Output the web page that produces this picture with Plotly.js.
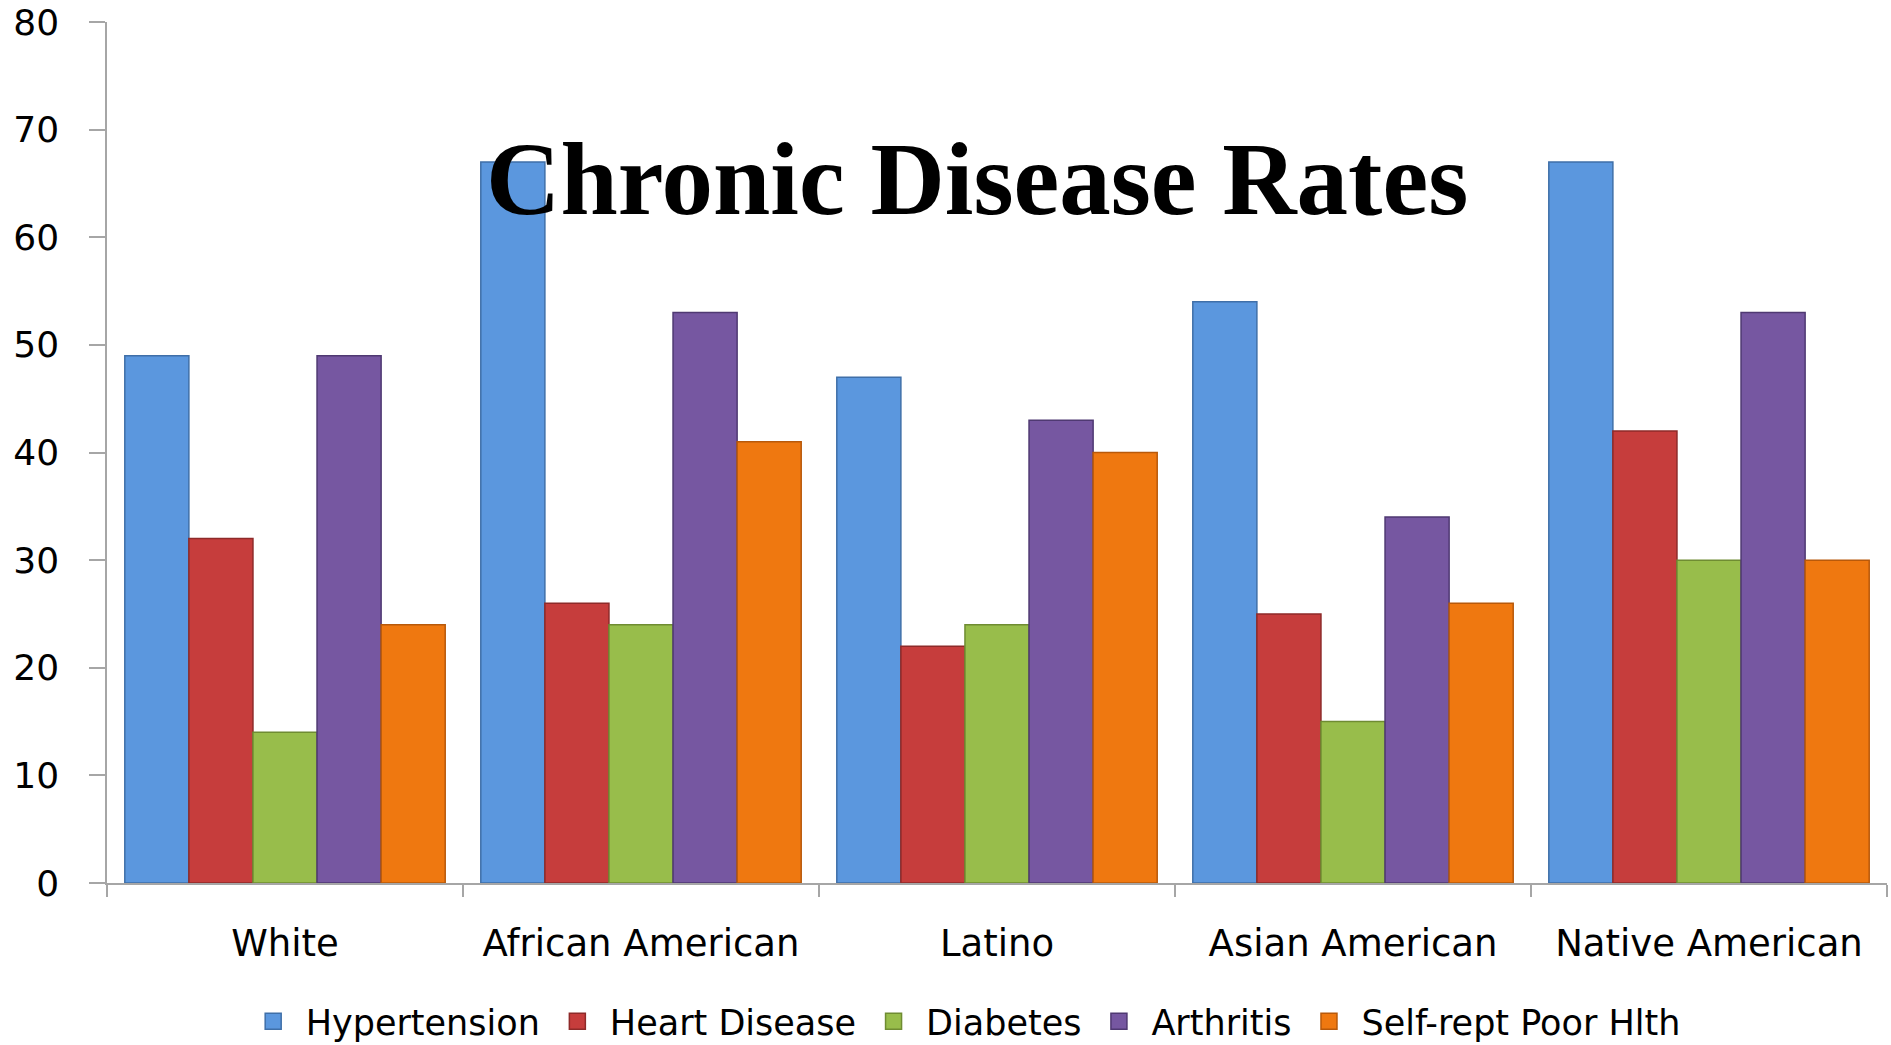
<!DOCTYPE html>
<html>
<head>
<meta charset="utf-8">
<script src="https://cdn.plot.ly/plotly-3.0.1.min.js"></script>
<style>html,body{margin:0;padding:0;background:#fff;}#chart{width:1891px;height:1045px;}</style>
</head>
<body>
<div id="chart"></div>
<script>
const categories = ["White", "African American", "Latino", "Asian American", "Native American"];
const seriesNames = ["Hypertension", "Heart Disease", "Diabetes", "Arthritis", "Self-rept Poor Hlth"];
const hypertension = [49, 67, 47, 54, 67];
const heartDisease = [32, 26, 22, 25, 42];
const diabetes = [14, 24, 24, 15, 30];
const arthritis = [49, 53, 43, 34, 53];
const poorHealth = [24, 41, 40, 26, 30];
const yTicks = [0, 10, 20, 30, 40, 50, 60, 70, 80];

const seriesValues = [hypertension, heartDisease, diabetes, arthritis, poorHealth];
const fills = ["#5b97de", "#c63d3c", "#98bd4b", "#7657a1", "#ef7810"];
const edges = ["#3f6fa8", "#8e2a29", "#6f8c32", "#4f3972", "#b8590a"];

const barTraces = seriesValues.map((vals, i) => ({
  type: "bar",
  name: seriesNames[i],
  x: categories,
  y: vals,
  showlegend: false,
  marker: {color: fills[i], line: {color: edges[i], width: 1.5}},
  hoverinfo: "x+y+name"
}));

// legend-only entries (larger square swatches, like the original)
const legendTraces = seriesNames.map((nm, i) => ({
  type: "scatter",
  mode: "markers",
  name: nm,
  x: [null],
  y: [null],
  showlegend: true,
  marker: {symbol: "square", size: 20, color: fills[i], line: {color: edges[i], width: 1.5}}
}));

const font = "DejaVu Sans, Verdana, sans-serif";
const layout = {
  width: 1891,
  height: 1045,
  paper_bgcolor: "#ffffff",
  plot_bgcolor: "#ffffff",
  margin: {l: 107, r: 4, t: 22, b: 162, autoexpand: false},
  barmode: "group",
  bargap: 0.1,
  bargroupgap: 0,
  showlegend: true,
  legend: {
    orientation: "h",
    x: 0.481, xanchor: "center",
    y: -0.161, yanchor: "middle",
    font: {family: font, size: 35, color: "#000"},
    itemwidth: 55,
    tracegroupgap: 0
  },
  xaxis: {
    type: "category",
    showline: true, linecolor: "#a6a6a6", linewidth: 1.5,
    ticks: "outside", tickson: "boundaries", ticklen: 12, tickcolor: "#a6a6a6", tickwidth: 1.5,
    showgrid: false, zeroline: false,
    tickfont: {family: font, size: 37, color: "#000"},
    ticklabelstandoff: 27
  },
  yaxis: {
    range: [0, 80],
    tickvals: yTicks,
    showline: true, linecolor: "#a6a6a6", linewidth: 1.5,
    ticks: "outside", ticklen: 16, tickcolor: "#a6a6a6", tickwidth: 1.5,
    showgrid: false, zeroline: false,
    tickfont: {family: font, size: 36, color: "#000"},
    ticklabelstandoff: 23
  },
  annotations: [{
    text: "<b>Chronic Disease Rates</b>",
    xref: "paper", yref: "paper",
    x: 0.489, y: 0.818,
    xanchor: "center", yanchor: "middle",
    showarrow: false,
    font: {family: "Liberation Serif, DejaVu Serif, serif", size: 103, color: "#000"}
  }]
};

Plotly.newPlot("chart", barTraces.concat(legendTraces), layout, {displayModeBar: false});
</script>
</body>
</html>
